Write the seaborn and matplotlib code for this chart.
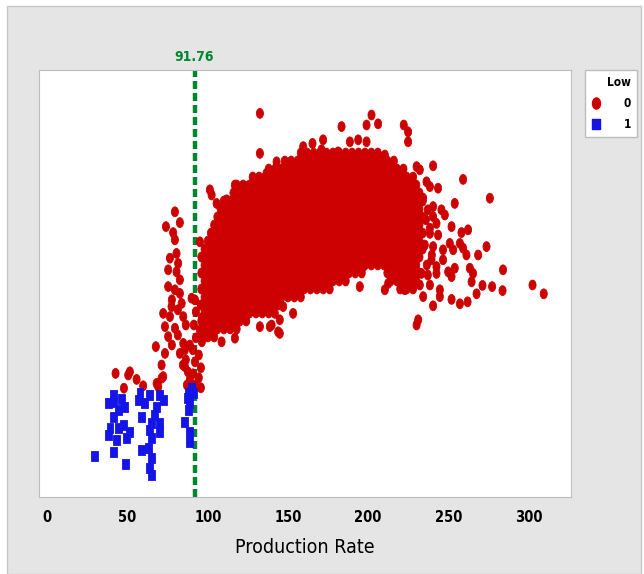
import pandas as pd
import matplotlib
matplotlib.use("Agg")
import matplotlib.pyplot as plt
import seaborn as sns
from matplotlib.lines import Line2D
from matplotlib.patches import Rectangle
from matplotlib.path import Path
from matplotlib.transforms import Affine2D

# Cut-off shown by the dashed reference line
cutoff = 91.76

# Low = 1 (blue squares)
blue_x = [41.0, 37.9, 41.0, 46.3, 48.3, 44.1, 41.0, 39.0, 37.9, 44.1, 47.3, 51.4, 49.4, 43.1,
          29.6, 41.0, 48.8, 57.7, 56.6, 63.9, 70.1, 72.2, 60.8, 68.1, 67.0, 58.7, 65.0, 70.1,
          63.9, 70.1, 65.0, 58.7, 62.8, 65.0, 63.9, 65.0, 87.8, 90.9, 88.8, 87.8, 85.7, 88.8,
          88.8, 89.8, 87.0]
blue_y = [25.5, 23.4, 23.8, 24.4, 22.6, 21.8, 20.1, 17.3, 15.5, 17.3, 18.0, 16.3, 14.7, 14.3,
          10.3, 11.2, 8.3, 25.9, 24.3, 25.5, 25.5, 24.3, 23.4, 22.6, 20.5, 20.1, 18.4, 18.4,
          16.8, 16.3, 14.7, 11.8, 12.2, 9.7, 7.2, 5.5, 25.9, 25.9, 23.4, 21.8, 18.8, 16.3,
          13.8, 27.3, 24.8]

# Low = 0 (red circles): scattered points outside the dense core
red_x = [42.5, 50.4, 51.4, 55.6, 47.7, 59.7, 71.2, 71.2, 69.1, 68.1, 72.2, 73.3, 67.6, 75.3,
         73.3, 79.5, 72.2, 76.4, 84.7, 77.4, 83.7, 75.3, 79.5, 82.6, 82.6, 75.3, 80.5, 81.5,
         76.4, 80.5, 79.5, 78.4, 73.9, 82.6, 79.5, 82.6, 84.7, 85.7, 89.9, 77.6, 81.3, 86.3,
         77.6, 81.3, 85.7, 88.8,
         92.0, 95.7, 92.6, 96.3, 91.3, 95.1, 92.6, 96.3, 90.7, 94.4, 92.0, 95.7, 90.7, 94.4,
         92.0, 95.7, 88.8, 87.6, 86.3, 84.5, 87.0,
         101.3, 102.4, 105.5, 108.6, 111.7, 115.8, 116.9, 124.2, 95.1, 108.6, 116.9, 116.9,
         132.5, 139.8, 143.9, 100.2, 132.5, 183.4, 202.1, 199.0, 206.2, 222.2, 224.9, 224.9,
         199.0, 193.8, 188.6, 171.9, 165.3, 159.5, 181.3, 170.9, 142.9, 132.5, 206.2, 210.4,
         200.0, 217.7, 136.6, 150.1, 155.4, 196.9, 194.8, 210.4, 212.5, 222.9, 217.7, 153.2,
         144.9, 138.7, 144.9, 147.0, 141.8, 230.2, 232.2, 240.5, 221.8, 259.2, 275.9, 236.4,
         238.5, 243.6, 229.1, 234.3, 240.5, 254.0, 245.7, 247.8, 240.5, 242.6, 252.0, 238.5,
         238.5, 243.6, 258.2, 262.3, 250.9, 257.2, 246.7, 253.0, 259.2, 261.3, 273.8, 268.6,
         240.5, 239.5, 246.7, 242.6, 242.6, 254.0, 249.9, 252.0, 263.4, 265.4, 264.5, 284.1,
         233.3, 234.3, 244.7, 244.7, 240.5, 252.0, 257.2, 262.0, 267.6, 271.3, 277.3, 283.8,
         302.5, 309.5, 231.2, 230.2, 237.2, 235.3, 237.2, 236.0, 239.7, 236.6, 238.5, 232.2]
red_y = [30.9, 30.5, 31.3, 29.4, 27.2, 27.8, 33.0, 29.7, 27.6, 28.4, 30.1, 35.9, 37.6, 40.1,
         42.6, 42.2, 45.9, 45.1, 45.1, 47.6, 48.4, 52.6, 51.8, 50.9, 54.3, 56.8, 56.3, 58.4,
         59.7, 60.9, 64.3, 66.1, 67.6, 68.6, 71.3, 35.9, 38.4, 32.6, 49.7, 49.3, 46.8, 43.0,
         38.0, 40.5, 36.8, 38.0,
         49.3, 48.0, 46.3, 44.8, 43.0, 41.8, 39.8, 38.8, 36.8, 35.5, 33.8, 32.3, 30.8, 29.8,
         28.0, 27.3, 29.3, 31.3, 34.3, 33.0, 28.0,
         76.8, 75.5, 73.4, 68.8, 74.3, 73.8, 78.0, 77.6, 63.8, 38.8, 39.7, 42.6,
         42.6, 43.0, 41.3, 40.5, 95.9, 92.6, 95.5, 93.0, 93.3, 93.0, 91.3, 88.8,
         88.8, 89.3, 88.8, 89.3, 88.4, 87.6, 86.3, 86.8, 83.8, 85.9, 85.1, 85.5,
         84.3, 81.8, 80.9, 81.8, 82.6, 57.6, 52.6, 51.8, 53.4, 51.8, 54.3, 45.9,
         44.3, 42.6, 40.9, 47.6, 45.9, 82.6, 81.8, 82.8, 79.7, 79.4, 74.7, 78.8,
         77.6, 77.2, 76.3, 74.7, 72.6, 73.4, 71.8, 70.5, 70.1, 68.4, 67.6, 67.2,
         65.9, 65.5, 66.1, 66.8, 63.4, 63.4, 61.8, 61.8, 62.2, 60.5, 62.6, 60.5,
         62.6, 59.3, 59.3, 57.6, 55.9, 57.2, 56.3, 55.1, 57.2, 55.9, 53.8, 56.8,
         55.9, 50.1, 51.8, 50.1, 47.8, 49.4, 48.3, 48.8, 50.8, 52.9, 52.6, 51.6,
         53.0, 50.8, 44.3, 43.0, 71.8, 63.0, 55.5, 69.3, 60.5, 58.0, 53.0, 53.0]

# Low = 0: the dense core, read row by row (response level -> production rates)
core_levels = [86, 84, 82, 80, 78, 76, 74, 72, 70, 68, 66, 64, 62, 60, 58, 56, 54, 52, 50,
               48, 46, 44, 42, 40]
core_rates = [
    [158, 162, 166, 170, 174, 178, 182, 186, 190, 194, 198, 202, 206],
    [148, 152, 156, 160, 164, 168, 172, 176, 180, 184, 188, 192, 196, 200, 204, 208, 212, 216],
    [138, 142, 146, 150, 154, 158, 162, 166, 170, 174, 178, 182, 186, 190, 194, 198, 202, 206,
     210, 214, 218, 222],
    [128, 132, 136, 140, 144, 148, 152, 156, 160, 164, 168, 172, 176, 180, 184, 188, 192, 196,
     200, 204, 208, 212, 216, 220, 224, 228],
    [118, 122, 126, 130, 134, 138, 142, 146, 150, 154, 158, 162, 166, 170, 174, 178, 182, 186,
     190, 194, 198, 202, 206, 210, 214, 218, 222, 226, 230],
    [116, 120, 124, 128, 132, 136, 140, 144, 148, 152, 156, 160, 164, 168, 172, 176, 180, 184,
     188, 192, 196, 200, 204, 208, 212, 216, 220, 224, 228, 232],
    [110, 114, 118, 122, 126, 130, 134, 138, 142, 146, 150, 154, 158, 162, 166, 170, 174, 178,
     182, 186, 190, 194, 198, 202, 206, 210, 214, 218, 222, 226, 230, 234],
    [108, 112, 116, 120, 124, 128, 132, 136, 140, 144, 148, 152, 156, 160, 164, 168, 172, 176,
     180, 184, 188, 192, 196, 200, 204, 208, 212, 216, 220, 224, 228, 232],
    [106, 110, 114, 118, 122, 126, 130, 134, 138, 142, 146, 150, 154, 158, 162, 166, 170, 174,
     178, 182, 186, 190, 194, 198, 202, 206, 210, 214, 218, 222, 226, 230, 234],
    [104, 108, 112, 116, 120, 124, 128, 132, 136, 140, 144, 148, 152, 156, 160, 164, 168, 172,
     176, 180, 184, 188, 192, 196, 200, 204, 208, 212, 216, 220, 224, 228, 232],
    [102, 106, 110, 114, 118, 122, 126, 130, 134, 138, 142, 146, 150, 154, 158, 162, 166, 170,
     174, 178, 182, 186, 190, 194, 198, 202, 206, 210, 214, 218, 222, 226, 230, 234],
    [100, 104, 108, 112, 116, 120, 124, 128, 132, 136, 140, 144, 148, 152, 156, 160, 164, 168,
     172, 176, 180, 184, 188, 192, 196, 200, 204, 208, 212, 216, 220, 224, 228, 232],
    [98, 102, 106, 110, 114, 118, 122, 126, 130, 134, 138, 142, 146, 150, 154, 158, 162, 166,
     170, 174, 178, 182, 186, 190, 194, 198, 202, 206, 210, 214, 218, 222, 226, 230, 234],
    [96, 100, 104, 108, 112, 116, 120, 124, 128, 132, 136, 140, 144, 148, 152, 156, 160, 164,
     168, 172, 176, 180, 184, 188, 192, 196, 200, 204, 208, 212, 216, 220, 224, 228, 232],
    [98, 102, 106, 110, 114, 118, 122, 126, 130, 134, 138, 142, 146, 150, 154, 158, 162, 166,
     170, 174, 178, 182, 186, 190, 194, 198, 202, 206, 210, 214, 218, 222, 226, 230],
    [96, 100, 104, 108, 112, 116, 120, 124, 128, 132, 136, 140, 144, 148, 152, 156, 160, 164,
     168, 172, 176, 180, 184, 188, 192, 196, 212, 216, 220, 224, 228, 232],
    [98, 102, 106, 110, 114, 118, 122, 126, 130, 134, 138, 142, 146, 150, 154, 158, 162, 166,
     170, 174, 178, 182, 186, 214, 218, 222, 226, 230],
    [96, 100, 104, 108, 112, 116, 120, 124, 128, 132, 136, 140, 144, 148, 152, 156, 160, 164,
     168, 172, 176, 220, 224, 228],
    [98, 102, 106, 110, 114, 118, 122, 126, 130, 134, 138, 142, 146, 150, 154, 158],
    [96, 100, 104, 108, 112, 116, 120, 124, 128, 132, 136, 140, 144],
    [98, 102, 106, 110, 114, 118, 122, 126, 130, 134, 138],
    [96, 100, 104, 108, 112, 116, 120, 124],
    [98, 102, 106, 110, 114, 118],
    [96, 100, 104],
]

x_ticks = [0, 50, 100, 150, 200, 250, 300]

red_color = "#cc0000"
blue_color = "#1414e6"
line_color = "#00862f"

# markers in the source image are tall (squeezed sideways)
oval = Affine2D().scale(0.72, 1.0).transform_path(Path.unit_circle())
tall_sq = Path([(-0.7, -1), (0.7, -1), (0.7, 1), (-0.7, 1), (-0.7, -1)], closed=True)

# build one table, red first so the blue squares sit on top
core_x = [r for rates in core_rates for r in rates]
core_y = [lv for lv, rates in zip(core_levels, core_rates) for _ in rates]
df = pd.DataFrame({
    "Production Rate": core_x + red_x + blue_x,
    "Response": core_y + red_y + blue_y,
    "Low": [0] * (len(core_x) + len(red_x)) + [1] * len(blue_x),
})

sns.set_style("white")
plt.rcParams["font.family"] = ["DejaVu Sans"]
plt.rcParams["font.stretch"] = "condensed"
plt.rcParams["text.color"] = "black"
plt.rcParams["axes.labelcolor"] = "black"
plt.rcParams["xtick.color"] = "black"

fig = plt.figure(figsize=(6.44, 5.74), dpi=100)
fig.patch.set_facecolor("white")
fig.add_artist(Rectangle((7 / 644, 0), 634 / 644, 568 / 574, transform=fig.transFigure,
                         facecolor="#e5e5e5", edgecolor="#c8c8c8", lw=1, zorder=-10))

ax = fig.add_axes([38.6 / 644, 77 / 574, 532.1 / 644, 427 / 574])
ax.set_facecolor("white")

ax.axvline(cutoff, color=line_color, lw=3.2, linestyle=(0, (1.8, 0.9)), zorder=1)
sns.scatterplot(data=df, x="Production Rate", y="Response", hue="Low", style="Low",
                markers={0: oval, 1: tall_sq}, palette={0: red_color, 1: blue_color},
                s=50, edgecolor="face", linewidth=0.6, legend=False, ax=ax, zorder=2)

ax.annotate(f"{cutoff:.2f}", xy=(cutoff, 1.0), xycoords=("data", "axes fraction"),
            xytext=(0, 4), textcoords="offset points", ha="center", va="bottom",
            color=line_color, fontsize=10, fontweight="bold")

ax.set_xlim(-5.5, 326.3)
ax.set_ylim(0, 106.75)
ax.set_xticks(x_ticks)
ax.set_yticks([])
ax.set_ylabel("")
ax.set_xlabel("Production Rate", fontsize=14, labelpad=10)
ax.tick_params(axis="x", direction="out", length=3, width=0.8, color="#999999",
               labelcolor="black", labelsize=10.5, pad=6)
for lbl in ax.get_xticklabels():
    lbl.set_fontweight("bold")
for sp in ax.spines.values():
    sp.set_color("#bdbdbd")
    sp.set_linewidth(0.8)

handles = [Line2D([], [], marker=oval, ls="", color=red_color, markersize=8),
           Line2D([], [], marker=tall_sq, ls="", color=blue_color, markersize=7.5)]
leg = fig.legend(handles, ["0", "1"], title="Low", loc="upper left",
                 bbox_to_anchor=(585 / 644, 1 - 70 / 574), bbox_transform=fig.transFigure,
                 borderaxespad=0, fontsize=8.5, title_fontsize=8.5, handlelength=0.8,
                 handletextpad=2.0, borderpad=0.5, labelspacing=0.7, alignment="right",
                 fancybox=False, framealpha=1, edgecolor="#bdbdbd")
for t in leg.get_texts():
    t.set_fontweight("bold")
leg.get_title().set_fontweight("bold")

fig.savefig("out.png", dpi=100, facecolor=fig.get_facecolor())
